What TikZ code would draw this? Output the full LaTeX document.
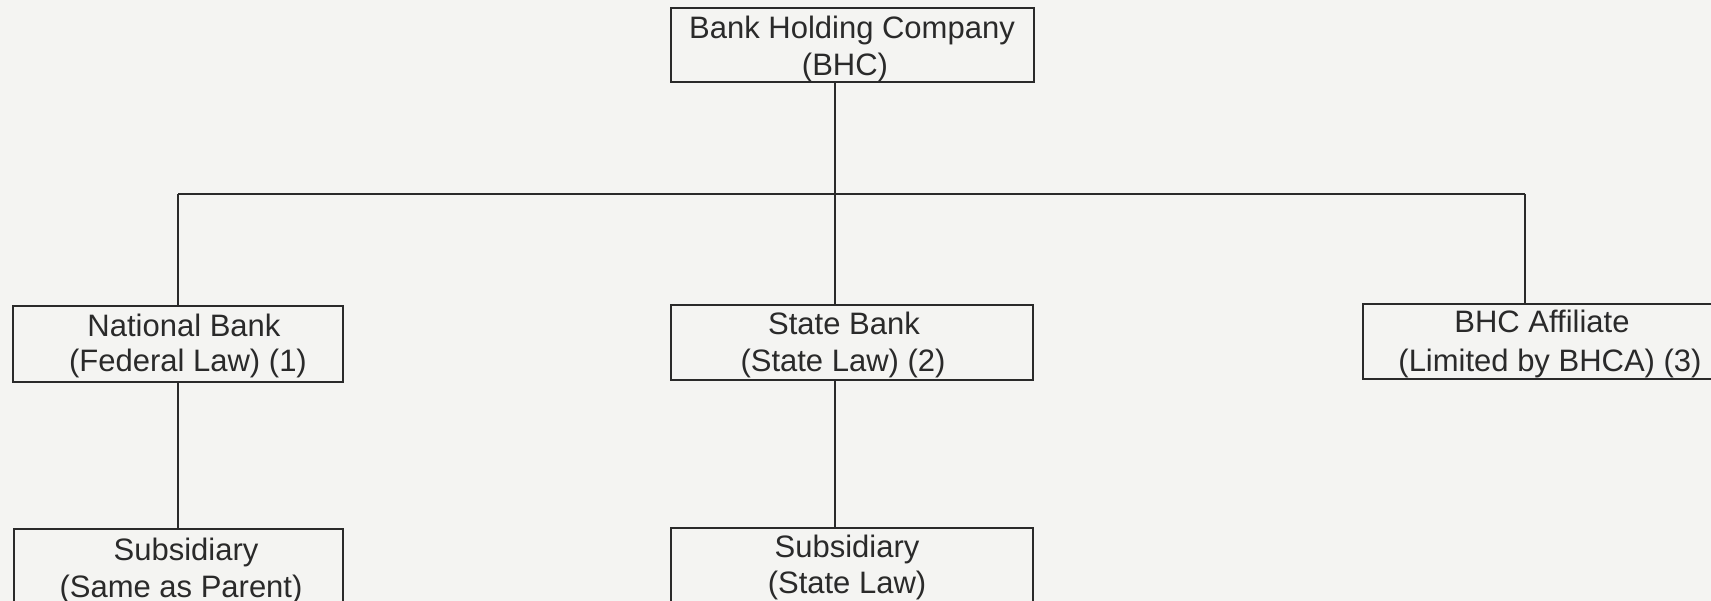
\documentclass[tikz,border=0pt]{standalone}
\usepackage{fontspec}
\setmainfont{Liberation Sans}
\definecolor{ink}{HTML}{2A2A2A}
\definecolor{paper}{HTML}{F4F4F2}
\begin{document}
\begin{tikzpicture}[x=1pt,y=-1pt,
  box/.style={draw=ink,line width=1.8pt,rectangle,inner sep=0pt,fill=paper},
  txt/.style={anchor=base,inner sep=0pt,text=ink,font=\fontsize{31}{37}\selectfont},
  conn/.style={draw=ink,line width=1.8pt}]
\fill[paper] (0,0) rectangle (1711,601);
\useasboundingbox (0,0) rectangle (1711,601);
\clip (0,0) rectangle (1711,601);
% connector junctions
\coordinate (j) at (835,194);
\coordinate (jl) at (178,194);
\coordinate (jr) at (1525,194);
% boxes
\node[box,minimum width=363pt,minimum height=74pt] (bhc) at (852.5,45) {};
\node[box,minimum width=330pt,minimum height=76pt] (nb) at (178,344) {};
\node[box,minimum width=362pt,minimum height=75pt] (sb) at (852,342.5) {};
\node[box,minimum width=366pt,minimum height=75pt] (aff) at (1546,341.5) {};
\node[box,minimum width=329pt,minimum height=76pt] (sub1) at (178.5,567) {};
\node[box,minimum width=362pt,minimum height=76pt] (sub2) at (852,566) {};
\draw[conn] (bhc.south -| j) -- (sb.north -| j);
\draw[conn] (jl) -- (jr);
\draw[conn] (jl) -- (nb.north -| jl);
\draw[conn] (jr) -- (aff.north -| jr);
\draw[conn] (nb.south -| jl) -- (sub1.north -| jl);
\draw[conn] (sb.south -| j) -- (sub2.north -| j);
% texts
\node[txt] (t1a) at (852,39) {Bank Holding Company};
\node[txt] (t1b) at (845,76) {(BHC)};
\node[txt] (t2a) at (184,337) {National Bank};
\node[txt] (t2b) at (188,372) {(Federal Law) (1)};
\node[txt] (t3a) at (844,335) {State Bank};
\node[txt] (t3b) at (843,372) {(State Law) (2)};
\node[txt] (t4a) at (1542,333) {BHC Affiliate};
\node[txt] (t4b) at (1550,372) {(Limited by BHCA) (3)};
\node[txt] (t5a) at (186,560) {Subsidiary};
\node[txt] (t5b) at (181,597) {(Same as Parent)};
\node[txt] (t6a) at (847,557) {Subsidiary};
\node[txt] (t6b) at (847,593) {(State Law)};
\end{tikzpicture}
\end{document}
